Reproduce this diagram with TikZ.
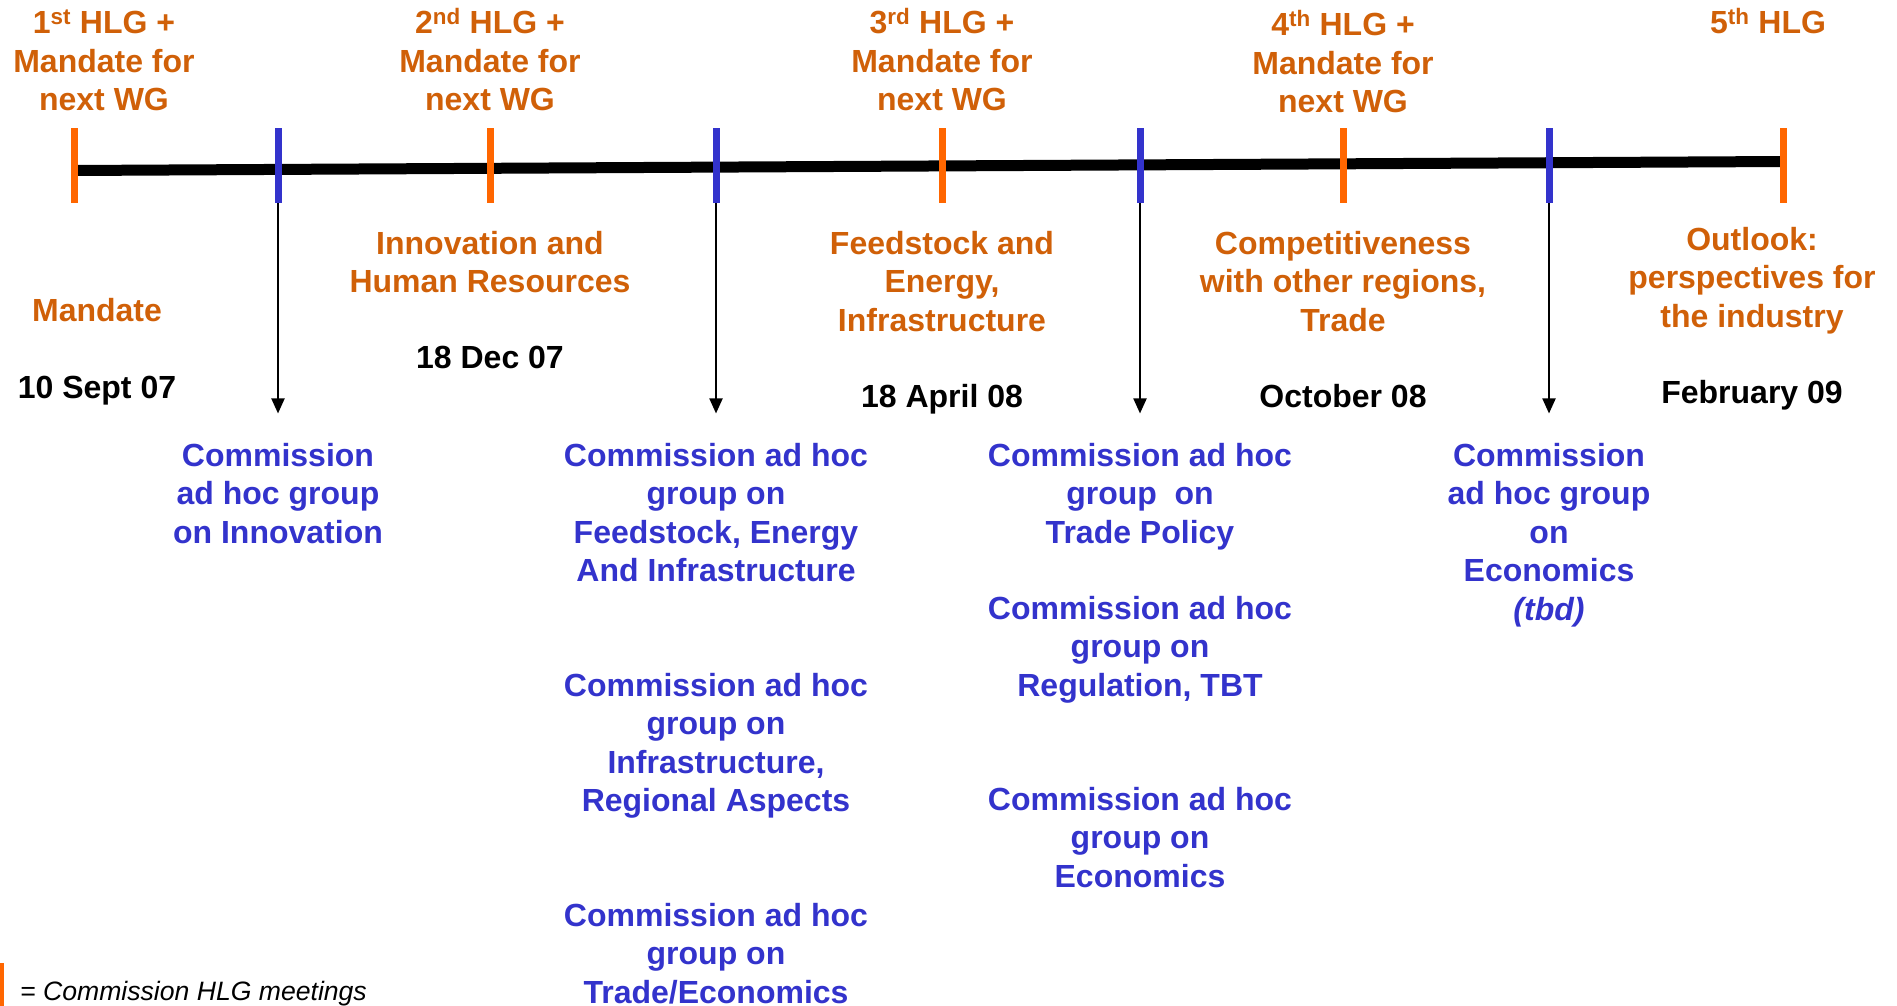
\documentclass[tikz,border=0pt]{standalone}
\usepackage{fontspec}
\setmainfont{Liberation Sans}
\usetikzlibrary{arrows.meta}
\definecolor{txtorange}{RGB}{208,96,8}
\definecolor{tickorange}{RGB}{255,102,0}
\definecolor{ecblue}{RGB}{51,51,204}
\newcommand\ml[1]{\begin{tabular}[t]{@{}c@{}}#1\end{tabular}}
\begin{document}
\begin{tikzpicture}[x=1pt,y=-1pt,
  lbl/.style={font=\bfseries\fontsize{32}{38.5}\selectfont, inner sep=0pt, anchor=base},
  hlg/.style={lbl, text=txtorange},
  grp/.style={lbl, text=ecblue},
  datelbl/.style={lbl, text=black},
  otick/.style={fill=tickorange, inner sep=0pt, minimum width=7pt, minimum height=75pt},
  btick/.style={fill=ecblue, inner sep=0pt, minimum width=7pt, minimum height=75pt},
  timeline/.style={line width=11pt, black},
  arr/.style={line width=2pt, -{Triangle[length=15pt,width=13pt]}, shorten >=25.4pt}
]
\useasboundingbox (0,0) rectangle (1897,1006);

% timeline
\coordinate (ls) at (74,170.5);
\coordinate (le) at (1783,161.5);
\draw[timeline] (ls) -- (le);

% ticks
\node[otick] (h1) at (74,165.5) {};
\node[btick] (b1) at (278,165.5) {};
\node[otick] (h2) at (490,165.5) {};
\node[btick] (b2) at (716,165.5) {};
\node[otick] (h3) at (942,165.5) {};
\node[btick] (b3) at (1140,165.5) {};
\node[otick] (h4) at (1343,165.5) {};
\node[btick] (b4) at (1549,165.5) {};
\node[otick] (h5) at (1783,165.5) {};

% top labels
\node[hlg] (t1) at (104,34) {\ml{1\textsuperscript{st} HLG +\\Mandate for\\next WG}};
\node[hlg] (t2) at (490,34) {\ml{2\textsuperscript{nd} HLG +\\Mandate for\\next WG}};
\node[hlg] (t3) at (942,34) {\ml{3\textsuperscript{rd} HLG +\\Mandate for\\next WG}};
\node[hlg] (t4) at (1343,36) {\ml{4\textsuperscript{th} HLG +\\Mandate for\\next WG}};
\node[hlg] (t5) at (1768,34) {5\textsuperscript{th} HLG};

% topics
\node[hlg] (p1) at (97,321) {Mandate};
\node[hlg] (p2) at (490,254) {\ml{Innovation and\\Human Resources}};
\node[hlg] (p3) at (942,254) {\ml{Feedstock and\\Energy,\\Infrastructure}};
\node[hlg] (p4) at (1343,254) {\ml{Competitiveness\\with other regions,\\Trade}};
\node[hlg] (p5) at (1752,250) {\ml{Outlook:\\perspectives for\\the industry}};

% dates
\node[datelbl] (d1) at (97,398) {10 Sept 07};
\node[datelbl] (d2) at (490,368) {18 Dec 07};
\node[datelbl] (d3) at (942,407) {18 April 08};
\node[datelbl] (d4) at (1343,407) {October 08};
\node[datelbl] (d5) at (1752,403) {February 09};

% commission groups
\node[grp] (g1) at (278,466) {\ml{Commission\\ad hoc group\\on Innovation}};
\node[grp] (g2a) at (716,466) {\ml{Commission ad hoc\\group on\\Feedstock, Energy\\And Infrastructure}};
\node[grp] (g2b) at (716,696) {\ml{Commission ad hoc\\group on\\Infrastructure,\\Regional Aspects}};
\node[grp] (g2c) at (716,926) {\ml{Commission ad hoc\\group on\\Trade/Economics}};
\node[grp] (g3a) at (1140,466) {\ml{Commission ad hoc\\group\ \ on\\Trade Policy}};
\node[grp] (g3b) at (1140,619) {\ml{Commission ad hoc\\group on\\Regulation, TBT}};
\node[grp] (g3c) at (1140,810) {\ml{Commission ad hoc\\group on\\Economics}};
\node[grp] (g4) at (1549,466) {\ml{Commission\\ad hoc group\\on\\Economics\\\textit{(tbd)}}};

% arrows
\draw[arr] (b1) -- (g1);
\draw[arr] (b2) -- (g2a);
\draw[arr] (b3) -- (g3a);
\draw[arr] (b4) -- (g4);

% legend
\node[fill=tickorange, inner sep=0pt, minimum width=3.5pt, minimum height=44pt] (legbar) at (1.75,985) {};
\node[inner sep=0pt, anchor=base west, font=\itshape\fontsize{26.6}{32}\selectfont] (legtxt) at (20,1000) {= Commission HLG meetings};
\end{tikzpicture}
\end{document}
